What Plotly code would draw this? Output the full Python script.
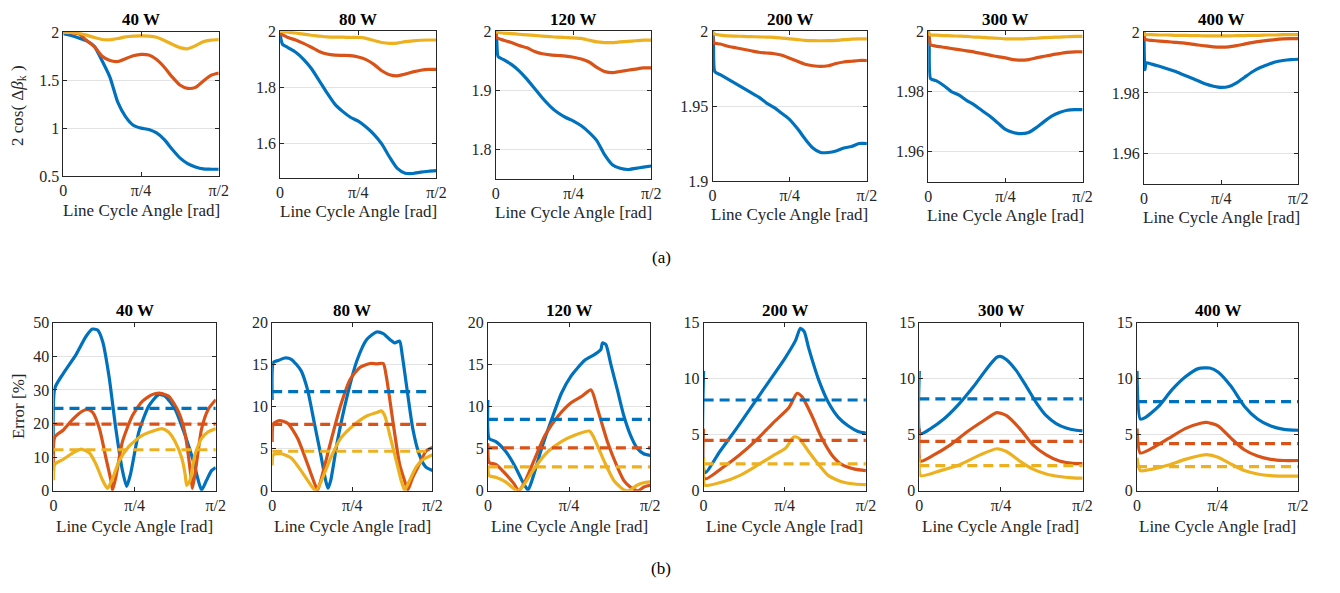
import plotly.graph_objects as go

# ---------------- colours / labels ----------------
BLUE, RED, YELLOW = "#0072BD", "#D95319", "#EDB120"
POWERS = ["40 W", "80 W", "120 W", "200 W", "300 W", "400 W"]
X_TICKVALS = [0, 0.5, 1.0]            # x is expressed in units of pi/2
X_TICKTEXT = ["0", "π/4", "π/2"]

# ---------------- (a) 2cos(Δβk) : shared x grid (units of pi/2) ----------------
TOP_X = [0, 0.006, 0.015, 0.05, 0.10, 0.15, 0.20, 0.25, 0.30, 0.35, 0.40, 0.45,
         0.50, 0.55, 0.60, 0.65, 0.70, 0.75, 0.80, 0.85, 0.90, 0.95, 1.00]

A40_BLUE = [1.983, 1.983, 1.98, 1.966, 1.94, 1.91, 1.85, 1.70, 1.53, 1.27, 1.12, 1.03,
            1.0, 0.985, 0.95, 0.88, 0.78, 0.69, 0.63, 0.595, 0.574, 0.571, 0.571]
A40_RED = [2.0, 2.0, 2.0, 1.995, 1.983, 1.915, 1.85, 1.75, 1.705, 1.695, 1.725, 1.755,
           1.77, 1.762, 1.715, 1.635, 1.535, 1.45, 1.415, 1.425, 1.49, 1.55, 1.575]
A40_YEL = [2.0, 2.0, 2.0, 1.998, 1.99, 1.97, 1.945, 1.925, 1.922, 1.935, 1.952, 1.96,
           1.963, 1.96, 1.948, 1.915, 1.875, 1.84, 1.828, 1.86, 1.90, 1.918, 1.925]

A80_BLUE = [1.995, 1.97, 1.954, 1.942, 1.925, 1.90, 1.867, 1.824, 1.78, 1.74, 1.714, 1.693,
            1.679, 1.658, 1.632, 1.598, 1.551, 1.51, 1.493, 1.492, 1.497, 1.50, 1.502]
A80_RED = [1.992, 1.99, 1.988, 1.978, 1.969, 1.957, 1.943, 1.928, 1.919, 1.915, 1.914, 1.913,
           1.908, 1.899, 1.882, 1.859, 1.845, 1.841, 1.847, 1.855, 1.861, 1.864, 1.864]
A80_YEL = [2.0, 2.0, 1.999, 1.997, 1.994, 1.99, 1.986, 1.983, 1.98, 1.979, 1.979, 1.978,
           1.978, 1.975, 1.967, 1.96, 1.957, 1.958, 1.963, 1.966, 1.968, 1.969, 1.969]

A120_BLUE = [2.0, 1.985, 1.957, 1.952, 1.944, 1.933, 1.919, 1.903, 1.887, 1.873, 1.862, 1.854,
             1.848, 1.84, 1.829, 1.815, 1.791, 1.774, 1.768, 1.766, 1.768, 1.77, 1.772]
A120_RED = [2.0, 1.99, 1.988, 1.985, 1.981, 1.976, 1.972, 1.966, 1.962, 1.96, 1.959, 1.958,
            1.956, 1.953, 1.948, 1.939, 1.932, 1.93, 1.932, 1.934, 1.936, 1.938, 1.938]
A120_YEL = [2.0, 1.999, 1.998, 1.997, 1.996, 1.995, 1.994, 1.993, 1.992, 1.991, 1.99, 1.9895,
            1.989, 1.988, 1.985, 1.982, 1.981, 1.981, 1.982, 1.983, 1.984, 1.985, 1.985]

A200_BLUE = [2.0, 1.995, 1.973, 1.971, 1.968, 1.965, 1.962, 1.959, 1.956, 1.952, 1.949, 1.945,
             1.941, 1.935, 1.928, 1.922, 1.919, 1.919, 1.92, 1.922, 1.923, 1.925, 1.925]
A200_RED = [2.0, 1.993, 1.992, 1.9915, 1.990, 1.989, 1.988, 1.987, 1.986, 1.9855, 1.985, 1.984,
            1.982, 1.98, 1.978, 1.977, 1.9765, 1.977, 1.9785, 1.9795, 1.98, 1.9805, 1.9805]
A200_YEL = [2.0, 1.9985, 1.998, 1.9975, 1.997, 1.9968, 1.9966, 1.9964, 1.9963, 1.9961, 1.996, 1.9955,
            1.995, 1.9945, 1.994, 1.9938, 1.9937, 1.9938, 1.994, 1.9944, 1.9948, 1.995, 1.995]

A300_BLUE = [2.0, 1.998, 1.9843, 1.9836, 1.982, 1.980, 1.9788, 1.977, 1.9755, 1.9736, 1.9718, 1.9696,
             1.9674, 1.9664, 1.966, 1.9664, 1.968, 1.970, 1.9718, 1.973, 1.9738, 1.974, 1.974]
A300_RED = [2.0, 1.998, 1.9955, 1.9951, 1.9947, 1.9943, 1.9939, 1.9935, 1.9931, 1.9926, 1.9921, 1.9916,
            1.9912, 1.9906, 1.9904, 1.9906, 1.9912, 1.9917, 1.9922, 1.9926, 1.993, 1.9932, 1.9932]
A300_YEL = [2.0, 1.9992, 1.9988, 1.9987, 1.9986, 1.9985, 1.9984, 1.9983, 1.9981, 1.998, 1.9978, 1.9977,
            1.9975, 1.9975, 1.9975, 1.9976, 1.9977, 1.9979, 1.998, 1.9981, 1.9982, 1.9983, 1.9983]

A400_BLUE = [2.0, 1.9877, 1.9899, 1.9895, 1.9888, 1.988, 1.9871, 1.9861, 1.9851, 1.984, 1.9829, 1.9822,
             1.9818, 1.9821, 1.9833, 1.9851, 1.9869, 1.9883, 1.9893, 1.9902, 1.9907, 1.991, 1.9911]
A400_RED = [2.0, 1.9978, 1.9975, 1.9973, 1.9971, 1.9969, 1.9967, 1.9965, 1.9962, 1.9958, 1.9955, 1.9952,
            1.9951, 1.9952, 1.9956, 1.9961, 1.9966, 1.997, 1.9973, 1.9976, 1.9978, 1.9979, 1.9979]
A400_YEL = [2.0, 1.9993, 1.9992, 1.9992, 1.9991, 1.9991, 1.999, 1.999, 1.9989, 1.9989, 1.9988, 1.9988,
            1.9988, 1.9988, 1.9989, 1.9989, 1.999, 1.999, 1.9991, 1.9991, 1.9992, 1.9992, 1.9992]

TOP_YRANGE = [[0.5, 2], [1.476, 2], [1.75, 2], [1.9, 2], [1.95, 2], [1.95, 2]]
TOP_YTICKS = [[0.5, 1, 1.5, 2], [1.6, 1.8, 2], [1.8, 1.9, 2], [1.9, 1.95, 2],
              [1.96, 1.98, 2], [1.96, 1.98, 2]]
TOP_YTEXT = [["0.5", "1", "1.5", "2"], ["1.6", "1.8", "2"], ["1.8", "1.9", "2"],
             ["1.9", "1.95", "2"], ["1.96", "1.98", "2"], ["1.96", "1.98", "2"]]

# ---------------- (b) Error [%] : per-curve x (units of pi/2) ----------------
B40_BLUE_X = [0, 0.008, 0.059, 0.14, 0.2, 0.24, 0.272, 0.303, 0.343, 0.384, 0.425, 0.451, 0.475,
              0.526, 0.587, 0.648, 0.689, 0.75, 0.811, 0.862, 0.892, 0.913, 0.943, 0.974, 1.0]
B40_BLUE_Y = [10.8, 30.5, 34.8, 40.6, 45.9, 48.1, 47.8, 44.4, 33.8, 18.5, 6.0, 1.3, 5.0,
              17.5, 25.2, 28.6, 28.1, 24.2, 16.5, 8.8, 3.1, 0.2, 3.1, 6.0, 6.9]
B40_RED_X = [0, 0.008, 0.059, 0.12, 0.181, 0.211, 0.242, 0.283, 0.323, 0.354, 0.364, 0.384, 0.425,
             0.486, 0.547, 0.608, 0.659, 0.71, 0.772, 0.813, 0.833, 0.85, 0.856, 0.872, 0.913, 0.953, 1.0]
B40_RED_Y = [6.0, 16.0, 18.0, 21.3, 23.75, 24.2, 23.3, 18.5, 9.8, 3.1, 0.2, 4.0, 14.6,
             22.3, 26.6, 28.6, 29.0, 28.1, 23.3, 16.5, 9.8, 3.1, 0.7, 5.0, 18.5, 24.2, 27.1]
B40_YEL_X = [0, 0.008, 0.059, 0.12, 0.17, 0.222, 0.262, 0.303, 0.333, 0.364, 0.404, 0.465, 0.547,
             0.628, 0.669, 0.709, 0.75, 0.79, 0.811, 0.821, 0.841, 0.872, 0.913, 0.953, 1.0]
B40_YEL_Y = [3.1, 7.9, 9.3, 11.25, 12.4, 11.25, 7.9, 3.1, 0.7, 3.6, 8.8, 13.2, 16.5,
             18.0, 18.5, 17.5, 14.6, 9.8, 5.0, 1.6, 3.1, 10.8, 15.6, 17.5, 18.5]

B80_BLUE_X = [0, 0.008, 0.037, 0.078, 0.119, 0.18, 0.221, 0.262, 0.303, 0.334, 0.348, 0.365, 0.406,
              0.467, 0.529, 0.59, 0.652, 0.693, 0.734, 0.764, 0.795, 0.811, 0.836, 0.877, 0.918, 0.959, 1.0]
B80_BLUE_Y = [10.8, 15.3, 15.5, 15.8, 15.65, 14.3, 12.0, 8.15, 4.3, 1.2, 0.3, 1.2, 5.8,
              11.2, 15.5, 18.0, 18.9, 18.7, 18.0, 17.6, 17.8, 16.2, 12.8, 7.4, 4.3, 2.8, 2.4]
B80_RED_X = [0, 0.008, 0.047, 0.098, 0.16, 0.221, 0.262, 0.283, 0.303, 0.365, 0.426, 0.488, 0.549,
             0.611, 0.652, 0.693, 0.713, 0.754, 0.795, 0.826, 0.846, 0.877, 0.918, 0.959, 1.0]
B80_RED_Y = [5.8, 8.0, 8.35, 8.0, 6.2, 3.15, 1.0, 0.1, 1.2, 5.8, 10.1, 13.3, 14.7,
             15.15, 15.1, 15.15, 13.5, 8.15, 3.15, 1.2, 0.1, 1.6, 3.15, 4.7, 5.15]
B80_YEL_X = [0, 0.008, 0.057, 0.119, 0.18, 0.242, 0.273, 0.303, 0.365, 0.426, 0.508, 0.59, 0.652,
             0.682, 0.703, 0.734, 0.775, 0.805, 0.826, 0.857, 0.898, 0.939, 1.0]
B80_YEL_Y = [3.0, 4.3, 4.4, 3.9, 2.4, 0.65, 0.0, 1.0, 3.9, 6.2, 7.8, 8.9, 9.3,
             9.5, 8.9, 6.6, 3.5, 1.2, 0.1, 1.2, 2.8, 3.7, 4.3]

B120_BLUE_X = [0, 0.008, 0.049, 0.109, 0.17, 0.211, 0.247, 0.271, 0.332, 0.393, 0.453, 0.514,
               0.595, 0.656, 0.696, 0.706, 0.727, 0.757, 0.798, 0.838, 0.879, 0.919, 0.96, 1.0]
B120_BLUE_Y = [10.8, 6.2, 5.85, 4.7, 2.8, 1.2, 0.1, 1.2, 5.1, 8.5, 11.6, 13.7,
               15.5, 16.2, 16.8, 17.6, 17.4, 15.1, 12.0, 8.9, 6.6, 5.1, 4.4, 4.2]
B120_RED_X = [0, 0.008, 0.049, 0.109, 0.16, 0.19, 0.231, 0.291, 0.352, 0.433, 0.514, 0.575,
              0.636, 0.676, 0.737, 0.798, 0.838, 0.88, 0.925, 0.962, 1.0]
B120_RED_Y = [5.65, 3.35, 3.15, 2.0, 0.85, 0.0, 1.2, 3.9, 6.6, 8.9, 10.5, 11.2,
              12.0, 9.7, 5.8, 2.8, 1.2, 0.4, 0.0, 0.45, 0.65]
B120_YEL_X = [0, 0.008, 0.049, 0.109, 0.16, 0.186, 0.22, 0.291, 0.372, 0.453, 0.534, 0.626,
              0.656, 0.717, 0.777, 0.838, 0.868, 0.919, 0.96, 1.0]
B120_YEL_Y = [2.95, 1.8, 1.6, 1.05, 0.25, 0.0, 0.65, 2.8, 4.7, 5.85, 6.6, 7.1,
              6.2, 3.5, 1.2, 0.1, 0.0, 0.65, 0.95, 1.05]

B200_BLUE_X = [0, 0.008, 0.1, 0.2, 0.3, 0.4, 0.5, 0.566, 0.596, 0.62, 0.647, 0.709, 0.77,
               0.83, 0.89, 0.951, 1.0]
B200_BLUE_Y = [10.7, 1.6, 3.5, 5.5, 7.6, 9.7, 11.8, 13.4, 14.5, 14.2, 12.75, 9.9, 7.85,
               6.55, 5.8, 5.3, 5.15]
B200_RED_X = [0, 0.008, 0.12, 0.221, 0.323, 0.424, 0.525, 0.576, 0.606, 0.667, 0.728, 0.79,
              0.85, 0.931, 1.0]
B200_RED_Y = [5.55, 1.05, 2.1, 3.2, 4.5, 6.0, 7.4, 8.7, 8.4, 6.7, 4.7, 3.2, 2.35, 1.93, 1.8]
B200_YEL_X = [0, 0.008, 0.12, 0.221, 0.323, 0.424, 0.505, 0.556, 0.586, 0.647, 0.708, 0.769,
              0.85, 0.931, 1.0]
B200_YEL_Y = [2.95, 0.5, 0.8, 1.35, 2.2, 3.1, 3.8, 4.8, 4.7, 3.5, 2.35, 1.35, 0.8, 0.6, 0.55]

B300_BLUE_X = [0, 0.008, 0.069, 0.15, 0.231, 0.332, 0.413, 0.474, 0.494, 0.534, 0.595, 0.656,
               0.717, 0.777, 0.838, 0.899, 0.96, 1.0]
B300_BLUE_Y = [10.7, 5.1, 5.55, 6.4, 7.55, 9.3, 10.9, 11.9, 12.0, 11.7, 10.7, 9.3,
               7.85, 6.7, 6.0, 5.6, 5.4, 5.35]
B300_RED_X = [0, 0.008, 0.089, 0.19, 0.291, 0.393, 0.474, 0.534, 0.615, 0.696, 0.777, 0.858,
              0.939, 1.0]
B300_RED_Y = [5.55, 2.65, 3.2, 4.1, 5.25, 6.25, 6.98, 6.7, 5.55, 4.1, 3.2, 2.65, 2.45, 2.42]
B300_YEL_X = [0, 0.008, 0.13, 0.251, 0.372, 0.474, 0.534, 0.615, 0.696, 0.777, 0.858, 0.939, 1.0]
B300_YEL_Y = [2.95, 1.35, 1.8, 2.35, 3.2, 3.75, 3.5, 2.65, 1.93, 1.5, 1.27, 1.15, 1.12]

B400_BLUE_X = [0, 0.02, 0.053, 0.135, 0.216, 0.298, 0.38, 0.451, 0.502, 0.584, 0.665, 0.747,
               0.829, 0.91, 1.0]
B400_BLUE_Y = [10.7, 6.4, 6.55, 7.55, 9.0, 10.15, 10.9, 10.96, 10.6, 9.3, 7.55, 6.4,
               5.77, 5.48, 5.4]
B400_RED_X = [0, 0.02, 0.094, 0.196, 0.298, 0.4, 0.43, 0.502, 0.584, 0.665, 0.747, 0.829, 0.91, 1.0]
B400_RED_Y = [5.55, 3.37, 3.8, 4.67, 5.55, 6.05, 6.1, 5.8, 4.67, 3.66, 3.1, 2.8, 2.7, 2.7]
B400_YEL_X = [0, 0.02, 0.094, 0.196, 0.298, 0.4, 0.43, 0.502, 0.584, 0.665, 0.747, 0.829, 0.91, 1.0]
B400_YEL_Y = [2.95, 1.8, 1.93, 2.3, 2.8, 3.17, 3.23, 3.0, 2.37, 1.8, 1.5, 1.35, 1.3, 1.3]

MEAN_BLUE = [24.5, 11.8, 8.5, 8.1, 8.2, 7.95]
MEAN_RED = [19.8, 7.9, 5.1, 4.5, 4.4, 4.2]
MEAN_YEL = [12.2, 4.7, 2.85, 2.4, 2.25, 2.15]

BOT_YRANGE = [[0, 50], [0, 20], [0, 20], [0, 15], [0, 15], [0, 15]]
BOT_YTICKS = [[0, 10, 20, 30, 40, 50], [0, 5, 10, 15, 20], [0, 5, 10, 15, 20],
              [0, 5, 10, 15], [0, 5, 10, 15], [0, 5, 10, 15]]

# ---------------- layout geometry (pixels) ----------------
W, H = 1340, 593
TOP_BOX = [(60, 217, 25, 173), (279, 437, 24, 175), (497, 654, 24, 176),
           (716, 872, 24, 178), (934, 1090, 24, 179), (1152, 1308, 25, 181)]
BOT_BOX = [(50, 214, 324, 497), (271, 433, 324, 497), (489, 653, 324, 497),
           (707, 871, 324, 497), (925, 1090, 324, 497), (1145, 1308, 324, 497)]

FONT = "Liberation Serif"
AX_COL = "#262626"
LW = 3.2

TOP_Y = [
    (A40_BLUE, A40_RED, A40_YEL), (A80_BLUE, A80_RED, A80_YEL),
    (A120_BLUE, A120_RED, A120_YEL), (A200_BLUE, A200_RED, A200_YEL),
    (A300_BLUE, A300_RED, A300_YEL), (A400_BLUE, A400_RED, A400_YEL),
]
BOT_XY = [
    ((B40_BLUE_X, B40_BLUE_Y), (B40_RED_X, B40_RED_Y), (B40_YEL_X, B40_YEL_Y)),
    ((B80_BLUE_X, B80_BLUE_Y), (B80_RED_X, B80_RED_Y), (B80_YEL_X, B80_YEL_Y)),
    ((B120_BLUE_X, B120_BLUE_Y), (B120_RED_X, B120_RED_Y), (B120_YEL_X, B120_YEL_Y)),
    ((B200_BLUE_X, B200_BLUE_Y), (B200_RED_X, B200_RED_Y), (B200_YEL_X, B200_YEL_Y)),
    ((B300_BLUE_X, B300_BLUE_Y), (B300_RED_X, B300_RED_Y), (B300_YEL_X, B300_YEL_Y)),
    ((B400_BLUE_X, B400_BLUE_Y), (B400_RED_X, B400_RED_Y), (B400_YEL_X, B400_YEL_Y)),
]
COLORS = [BLUE, RED, YELLOW]
MEANS = [MEAN_BLUE, MEAN_RED, MEAN_YEL]


def px(x):
    return x / W


def py(y):
    return 1 - y / H


fig = go.Figure()
layout = dict(
    width=W, height=H, margin=dict(l=0, r=0, t=0, b=0),
    paper_bgcolor="white", plot_bgcolor="white", showlegend=False,
    font=dict(family=FONT, size=16, color=AX_COL),
)
annotations = []


def axis_common():
    return dict(showline=True, linecolor=AX_COL, linewidth=1, mirror="ticks",
                ticks="inside", ticklen=4, tickcolor=AX_COL, tickwidth=1,
                zeroline=False, tickfont=dict(family=FONT, size=16, color=AX_COL))


LINE_SHAPE = dict(shape="spline", smoothing=0.6)

for i in range(12):
    row = i // 6
    k = i % 6
    idx = i + 1
    xa = "x" if idx == 1 else f"x{idx}"
    ya = "y" if idx == 1 else f"y{idx}"
    if row == 0:
        x0, x1, y0, y1 = TOP_BOX[k]
        for c, yv in enumerate(TOP_Y[k]):
            fig.add_trace(go.Scatter(x=TOP_X, y=yv, mode="lines", xaxis=xa, yaxis=ya,
                                     line=dict(color=COLORS[c], width=LW, **LINE_SHAPE),
                                     hoverinfo="skip"))
        yr, yt, ytt = TOP_YRANGE[k], TOP_YTICKS[k], TOP_YTEXT[k]
    else:
        x0, x1, y0, y1 = BOT_BOX[k]
        for c, (xv, yv) in enumerate(BOT_XY[k]):
            fig.add_trace(go.Scatter(x=xv, y=yv, mode="lines", xaxis=xa, yaxis=ya,
                                     line=dict(color=COLORS[c], width=LW, **LINE_SHAPE),
                                     hoverinfo="skip"))
        for c in range(3):
            m = MEANS[c][k]
            fig.add_trace(go.Scatter(x=[0, 1], y=[m, m], mode="lines", xaxis=xa, yaxis=ya,
                                     line=dict(color=COLORS[c], width=LW, dash="10px,6px"),
                                     hoverinfo="skip"))
        yr, yt = BOT_YRANGE[k], BOT_YTICKS[k]
        ytt = [str(v) for v in yt]

    xkey = "xaxis" if idx == 1 else f"xaxis{idx}"
    ykey = "yaxis" if idx == 1 else f"yaxis{idx}"
    layout[xkey] = dict(axis_common(), domain=[px(x0), px(x1)], anchor=ya, range=[0, 1],
                        tickvals=X_TICKVALS, ticktext=X_TICKTEXT, showgrid=False)
    layout[ykey] = dict(axis_common(), domain=[py(y1), py(y0)], anchor=xa, range=yr,
                        tickvals=yt, ticktext=ytt, showgrid=True, gridcolor="#e3e3e3",
                        gridwidth=1)

    cx = (x0 + x1) / 2
    title_y = 12 if row == 0 else 311
    annotations.append(dict(x=px(cx), y=py(title_y), xref="paper", yref="paper",
                            text=f"<b>{POWERS[k]}</b>", showarrow=False,
                            xanchor="center", yanchor="middle",
                            font=dict(family=FONT, size=17, color="black")))
    lab_y = y1 + 35 if row == 0 else 534
    annotations.append(dict(x=px(cx), y=py(lab_y), xref="paper", yref="paper",
                            text="Line Cycle Angle [rad]", showarrow=False,
                            xanchor="center", yanchor="middle",
                            font=dict(family=FONT, size=17, color=AX_COL)))

annotations.append(dict(x=px(15), y=py(100), xref="paper", yref="paper",
                        text="2 cos( Δ<i>β</i><sub>k</sub> )", textangle=-90, showarrow=False,
                        xanchor="center", yanchor="middle",
                        font=dict(family=FONT, size=17, color=AX_COL)))
annotations.append(dict(x=px(14), y=py(410), xref="paper", yref="paper",
                        text="Error [%]", textangle=-90, showarrow=False,
                        xanchor="center", yanchor="middle",
                        font=dict(family=FONT, size=17, color=AX_COL)))
annotations.append(dict(x=px(664), y=py(257), xref="paper", yref="paper",
                        text="(a)", showarrow=False, xanchor="center", yanchor="middle",
                        font=dict(family=FONT, size=17, color="black")))
annotations.append(dict(x=px(664), y=py(577), xref="paper", yref="paper",
                        text="(b)", showarrow=False, xanchor="center", yanchor="middle",
                        font=dict(family=FONT, size=17, color="black")))

layout["annotations"] = annotations
fig.update_layout(**layout)
fig.write_html("out.html")
